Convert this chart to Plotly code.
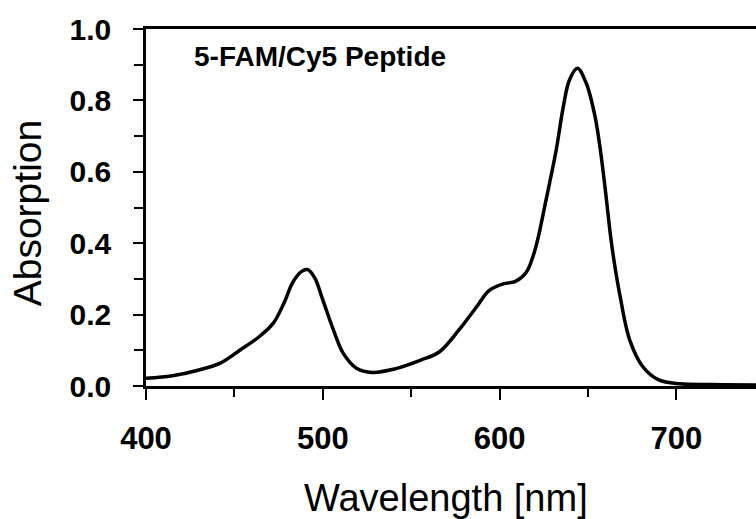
import plotly.graph_objects as go

wavelength = [400, 415, 430, 442, 453, 464, 472, 478, 483, 488, 491.5, 495.5, 500, 506, 511.5,
              519, 528, 540, 555, 566, 577, 587, 594, 602, 609, 615, 619, 622, 626, 632, 636,
              639.5, 644, 649, 654, 657, 660, 663, 666, 668, 673.5, 681, 690, 702, 720, 745]
absorption = [0.022, 0.029, 0.045, 0.064, 0.100, 0.138, 0.176, 0.232, 0.290, 0.321, 0.326, 0.302,
              0.241, 0.157, 0.092, 0.050, 0.038, 0.047, 0.072, 0.096, 0.157, 0.222, 0.267, 0.286,
              0.293, 0.318, 0.365, 0.420, 0.515, 0.661, 0.782, 0.857, 0.890, 0.848, 0.754, 0.660,
              0.540, 0.410, 0.310, 0.255, 0.130, 0.054, 0.017, 0.006, 0.004, 0.003]

x_ticks = [400, 500, 600, 700]
y_ticks = [0.0, 0.2, 0.4, 0.6, 0.8, 1.0]
y_tick_text = ["0.0", "0.2", "0.4", "0.6", "0.8", "1.0"]

font_family = "Arial, Liberation Sans, sans-serif"

fig = go.Figure()
fig.add_trace(go.Scatter(
    x=wavelength, y=absorption, mode="lines",
    line=dict(color="black", width=3.5, shape="spline", smoothing=1.0),
    showlegend=False, hoverinfo="skip",
))

fig.update_layout(
    width=756, height=519,
    margin=dict(l=146, r=0, t=29, b=133),
    paper_bgcolor="white", plot_bgcolor="white",
    font=dict(family=font_family, color="black"),
    xaxis=dict(
        range=[400, 745], tickvals=x_ticks, ticktext=[str(v) for v in x_ticks],
        showgrid=False, zeroline=False, showline=True, linecolor="black", linewidth=2.5,
        mirror=True, ticks="outside", ticklen=11, tickwidth=2, tickcolor="black",
        tickfont=dict(size=31, family=font_family, weight="bold"),
        ticklabelstandoff=12,
        minor=dict(tickvals=[450, 550, 650], ticks="outside", ticklen=8, tickwidth=2,
                   tickcolor="black", showgrid=False),
    ),
    yaxis=dict(
        range=[0, 1.0], tickvals=y_ticks, ticktext=y_tick_text,
        showgrid=False, zeroline=False, showline=True, linecolor="black", linewidth=2.5,
        ticks="outside", ticklen=10, tickwidth=2, tickcolor="black",
        tickfont=dict(size=30, family=font_family, weight="bold"),
        ticklabelstandoff=16,
        minor=dict(tickvals=[0.1, 0.3, 0.5, 0.7, 0.9], ticks="outside", ticklen=9, tickwidth=2,
                   tickcolor="black", showgrid=False),
    ),
    annotations=[
        dict(text="Absorption", xref="paper", yref="paper", x=-0.193, y=0.4846,
             textangle=-90, xanchor="center", yanchor="middle", showarrow=False,
             font=dict(size=39, family=font_family, color="black")),
        dict(text="Wavelength [nm]", xref="paper", yref="paper", x=0.4918, y=-0.3137,
             xanchor="center", yanchor="middle", showarrow=False,
             font=dict(size=38, family=font_family, color="black")),
        dict(text="5-FAM/Cy5 Peptide", xref="paper", yref="paper", x=0.0754, y=0.9216,
             xanchor="left", yanchor="middle", showarrow=False,
             font=dict(size=28, family=font_family, color="black", weight="bold")),
    ],
)

fig.write_html("out.html", config={"displayModeBar": False},
               post_script="document.body.style.margin='0px';")
